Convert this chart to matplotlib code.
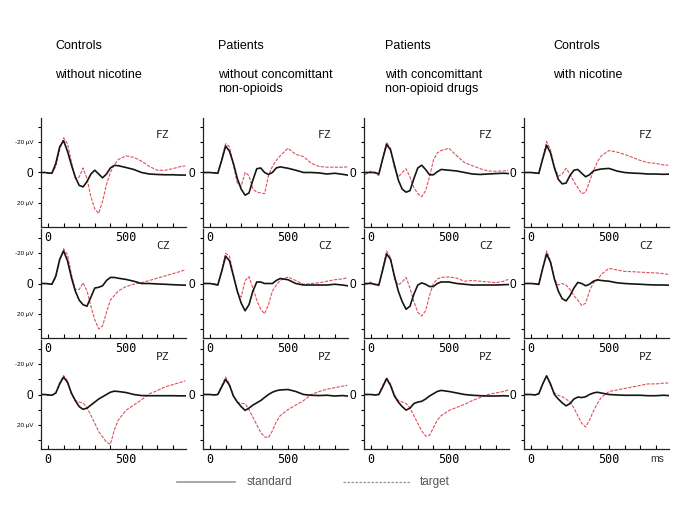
import numpy as np
import matplotlib
matplotlib.use("Agg")
import matplotlib.pyplot as plt
from matplotlib.lines import Line2D

# time points (ms)
T = [-40, -20, 0, 25, 50, 75, 100, 125, 150, 175, 200, 225, 250, 275, 300, 325, 350,
     375, 400, 425, 450, 500, 550, 600, 650, 700, 750, 800, 850, 880]

headers = ["Controls\n\nwithout nicotine",
           "Patients\n\nwithout concomittant\nnon-opioids",
           "Patients\n\nwith concomittant\nnon-opioid drugs",
           "Controls\n\nwith nicotine"]
channels = ["FZ", "CZ", "PZ"]

# standard (solid black) and target (dashed red), microvolts, negative up
# FZ
std_fz_1 = [0, 0, 0.3, 0.5, -6, -17, -21, -14, -5, 3, 8.5, 9.5, 6, 1, -1.5, 1, 3.5, 1, -3, -4.7, -4.5, -3.3, -2, 0, 1, 1.3, 1.5, 1.5, 1.7, 1.7]
tgt_fz_1 = [0, 0, 0.3, 0.3, -4, -15, -23, -19, -7, 4, 3, -3, 4, 16, 24, 27, 19, 8, 0, -5, -8.5, -11, -10, -7.5, -4, -1.5, -1.5, -2.5, -4, -4.3]
std_fz_2 = [0, 0, 0, 0.3, 0.5, -8, -17.5, -14, -6, 4, 11, 15, 13.5, 5, -2.5, -3, 0, 1.3, 0, -3, -3.7, -2.8, -1.5, 0, 0, 0.3, 1, 0.5, 1.2, 1.7]
tgt_fz_2 = [0, 0, 0, 0, 0.5, -9, -19, -17, -5, 7, 9, 0, 2, 11, 13, 13.5, 14, 2, -4, -8, -11, -16, -12, -10.5, -6, -4, -3.5, -3.5, -3.5, -3.7]
std_fz_3 = [0, 0, 0, 0, 1, -9, -18.5, -15, -5, 5, 11, 13, 12, 4, -3, -4.8, -2, 1.5, 1.5, -0.5, -2, -1.5, -1, 0, 1, 1.3, 1, 0.7, 0.5, 0.7]
tgt_fz_3 = [1.3, 0.5, -1, 0.5, 2, -10, -20, -16, -3, 3, 0, -2.5, 3, 10, 14, 16, 12, 3, -8, -13, -14.5, -16, -11, -6.5, -4.5, -2.5, -1, -0.8, -1, -1.5]
std_fz_4 = [0, 0, 0, 0.3, 0.5, -9, -18, -13, -3, 4.5, 7.5, 7, 2, -1.5, -2, 0.5, 2.8, 1.5, -1, -1.8, -2.3, -2.7, -1, 0, 0.4, 0.6, 1, 1, 1.2, 1.1]
tgt_fz_4 = [0, 0, 0, 0.3, 1, -10, -20.5, -15, -4, 2.5, 1, -2.8, 1, 6, 10, 14, 13, 6, -1, -7, -11, -14.5, -13.5, -12, -10, -8, -6.5, -6, -5, -4.8]
# CZ
std_cz_1 = [0, 0, 0.2, 0.5, -5, -16, -21.5, -15, -4, 5, 11, 14, 15, 9, 3, 2.5, 1.5, -2, -4, -4, -3.5, -2.7, -1.5, 0, 0, 0.3, 0.5, 0.8, 1, 1.1]
tgt_cz_1 = [0, 0, 0, 0.3, -4, -15, -23, -19, -6, 4, 4, -0.5, 5, 15, 24, 30, 28, 19, 11, 8, 5, 2, 0.5, -0.5, -2, -3.5, -5, -6.5, -8, -9]
std_cz_2 = [0, 0, 0, 0.5, 1, -8, -18, -15, -5, 5, 13, 18, 14, 5, -1, -1, 0, 0, 0, -2, -3.3, -2.5, 0, 1, 1, 1, 1, 0.5, 1, 1.5]
tgt_cz_2 = [0, 0, 0, 0, 1, -9, -20, -18, -6, 6, 9, -2, -4.5, 3, 11, 17, 20, 14, 5, 1, -2, -4.3, -2, 0.5, 0, -0.5, -1.5, -2.5, -3, -3.8]
std_cz_3 = [0, 0, 0, 0.5, 1, -9, -19.5, -16, -5, 5, 12, 17, 15, 7, 1, -0.4, 0.5, 2, 2, 0, -1, -1, 0, 0.5, 1, 1, 1, 1, 0.8, 0.7]
tgt_cz_3 = [1, 0, -1, 1, 1.5, -10, -21.5, -17, -3, 1, -1, -4, 3, 12, 19, 21.5, 18, 8, 0, -3, -4, -4.4, -3.5, -1.5, -2, -1.5, -1, -0.5, -1.5, -2.7]
std_cz_4 = [0, 0, 0, 0.2, 0.5, -10, -19.5, -14, -3, 5, 10, 11.5, 8, 3, -0.7, 0, 1.5, 0.5, -1.5, -2.4, -2, -1.5, -0.5, 0, 0.3, 0.5, 0.8, 1, 1, 1.1]
tgt_cz_4 = [0, 0, 0, 0.3, 1, -10, -21.5, -15, -3, 1, 0, 1, 4, 8, 11, 14.5, 13, 5, -0.5, -2, -6, -10, -9, -8, -7.8, -7.5, -7.2, -7, -6.5, -6]
# PZ
std_pz_1 = [0, 0, 0.3, 0.5, -1, -7, -11.5, -8, -1, 4, 8, 9.8, 9, 7, 5, 3, 1.5, 0, -1.5, -2.2, -2, -1.3, 0, 0.7, 0.8, 0.8, 0.8, 0.8, 0.9, 0.9]
tgt_pz_1 = [0, 0, 0.3, 0.5, -1, -8, -12.5, -9, 0, 4, 5, 5.6, 8.7, 13.7, 19, 24.5, 28, 31.5, 33, 23.5, 17, 10.4, 7, 3.5, -0.5, -2.5, -5, -6.5, -8, -9]
std_pz_2 = [0, 0, 0, 0.3, 0, -5, -10, -6, 1, 5, 8, 10.5, 9, 7, 5.5, 4, 2, 0, -1.5, -2.5, -3, -3.3, -2, 0, 0.5, 0.7, 0.5, 1, 0.7, 1]
tgt_pz_2 = [0, 0, 0, 0.3, 0, -6, -11.5, -7, 1, 5, 6, 6, 10, 15, 20, 25, 28, 28.5, 24, 18, 14, 10, 7, 4, 0, -2, -3.5, -4.5, -5.5, -6]
std_pz_3 = [0, 0, 0, 0.3, 0, -5, -10.5, -6, 1, 5, 8, 10.3, 9, 6, 5, 4.5, 3, 1, -0.5, -2, -2.7, -2, -1, 0, 0.5, 0.8, 1, 1, 0.8, 1]
tgt_pz_3 = [0, 0, 0, 0.3, 0, -6, -11, -7, 0, 4, 5, 6, 9, 14, 19, 24, 27.5, 27, 22, 17, 14, 10.5, 8.5, 6.5, 4, 2, 0, -1, -2, -3]
std_pz_4 = [0, 0, 0, 0.3, -0.5, -7, -12.3, -7, 0, 3, 5.5, 7.5, 6, 3, 1.7, 2, 1.5, 0, -1, -1.5, -1, 0, 0.3, 0.5, 0.5, 0.5, 0.8, 0.8, 0.5, 0.7]
tgt_pz_4 = [0, 0, 0, 0.3, -0.5, -7, -12.3, -6, -1, 0.5, 1.5, 3, 5, 9, 14, 19, 21.5, 17, 11, 6, 2, -2, -3, -4, -5, -6, -7, -7, -7.5, -7.6]

std = [[std_fz_1, std_fz_2, std_fz_3, std_fz_4],
       [std_cz_1, std_cz_2, std_cz_3, std_cz_4],
       [std_pz_1, std_pz_2, std_pz_3, std_pz_4]]
tgt = [[tgt_fz_1, tgt_fz_2, tgt_fz_3, tgt_fz_4],
       [tgt_cz_1, tgt_cz_2, tgt_cz_3, tgt_cz_4],
       [tgt_pz_1, tgt_pz_2, tgt_pz_3, tgt_pz_4]]

W, H = 685, 513
fig = plt.figure(figsize=(W / 100, H / 100), dpi=100)
plt.rcParams['font.family'] = ['Liberation Sans', 'DejaVu Sans']

col_left = [41, 203, 364, 524]
row_top = [118, 229, 340]
aw, ah = 145, 109
red = '#e0505e'

for r in range(3):
    for c in range(4):
        ax = fig.add_axes([col_left[c] / W, 1 - (row_top[r] + ah) / H, aw / W, ah / H])
        ax.patch.set_alpha(0)
        ax.plot(T, tgt[r][c], color=red, lw=0.8, dashes=(3, 1.2))
        ax.plot(T, std[r][c], color='#151515', lw=1.2)
        ax.set_xlim(-45, 885)
        ax.set_ylim(36, -36)
        for s in ['top', 'right']:
            ax.spines[s].set_visible(False)
        for s in ['left', 'bottom']:
            ax.spines[s].set_linewidth(0.9)
            ax.spines[s].set_color('#222222')
        ax.set_xticks(range(0, 900, 100))
        ax.set_xticklabels(['0', '', '', '', '', '500', '', '', ''])
        ax.tick_params(axis='x', direction='in', length=3, width=0.8, pad=3,
                       labelsize=8.5, labelfontfamily='DejaVu Sans Mono')
        ax.set_yticks(range(-30, 40, 10))
        ax.tick_params(axis='y', direction='out', length=2.5, width=0.8, pad=3,
                       labelsize=8.5)
        if c == 0:
            ax.set_yticklabels(['', '-20 \u00b5V', '', '0', '', '20 \u00b5V', ''])
            for lab in ax.get_yticklabels():
                if lab.get_text() != '0':
                    lab.set_fontsize(4.5)
        else:
            ax.set_yticklabels(['', '', '', '0', '', '', ''])
        ax.text(0.84, 0.84, channels[r], transform=ax.transAxes, fontsize=8,
                family='DejaVu Sans Mono', ha='center', va='center', color='#222222')
        if r == 2 and c == 3:
            ax.text(0.92, -0.09, 'ms', transform=ax.transAxes, fontsize=7.5,
                    ha='center', va='center', color='#333333')

hx = [55, 218, 385, 553]
for c in range(4):
    fig.text(hx[c] / W, 1 - 40 / H, headers[c], fontsize=9, ha='left', va='top',
             linespacing=1.25)

# legend
fig.add_artist(Line2D([177 / W, 235 / W], [1 - 482 / H] * 2, color='#999999', lw=1.2))
fig.text(247 / W, 1 - 482 / H, 'standard', fontsize=8.5, va='center', color='#555555')
fig.add_artist(Line2D([343 / W, 410 / W], [1 - 482 / H] * 2, color='#999999', lw=0.9,
                      dashes=(2, 1.2)))
fig.text(420 / W, 1 - 482 / H, 'target', fontsize=8.5, va='center', color='#555555')

fig.savefig('out.png', dpi=100)
